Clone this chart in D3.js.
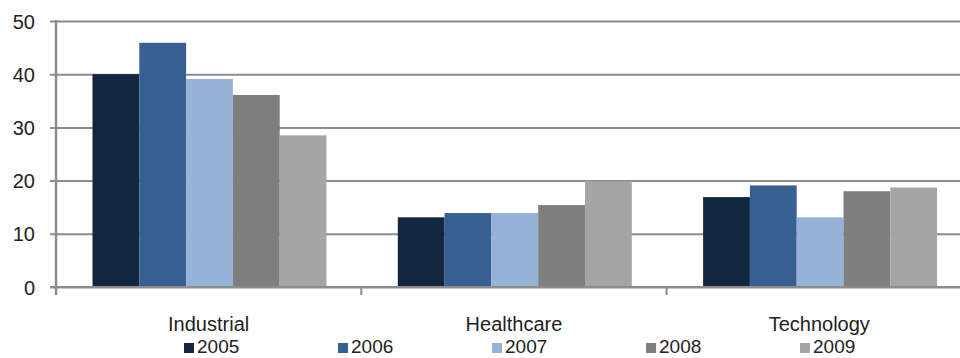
<!DOCTYPE html>
<html>
<head>
<meta charset="utf-8">
<script src="https://cdn.jsdelivr.net/npm/d3@7"></script>
<style>
  html, body { margin: 0; padding: 0; background: #fff; overflow: hidden; }
  svg { display: block; }
  text { font-family: "Liberation Sans", Arial, sans-serif; fill: #222; }
</style>
</head>
<body>
<div id="chart"></div>
<script>
// data
const categories = ["Industrial", "Healthcare", "Technology"];
const years = ["2005", "2006", "2007", "2008", "2009"];
const v2005 = [40, 13.1, 16.9];
const v2006 = [45.9, 13.9, 19.1];
const v2007 = [39.1, 13.9, 13.1];
const v2008 = [36.1, 15.4, 18.0];
const v2009 = [28.5, 19.9, 18.7];
const yTicks = [0, 10, 20, 30, 40, 50];
const colors = ["#12263f", "#366092", "#95b3d7", "#7f7f7f", "#a5a5a5"];

const series = [v2005, v2006, v2007, v2008, v2009];
const rows = categories.map((c, i) => ({
    key: c,
    values: years.map((yr, j) => ({ year: yr, value: series[j][i] }))
}));

const W = 960, H = 358;
const plotLeft = 56, plotTop = 21, plotBottom = 287;
const catWidth = 305.3;

const svg = d3.select("#chart")
    .append("svg")
    .attr("width", W)
    .attr("height", H);

// scales
const x0 = d3.scaleBand()
    .domain(categories)
    .range([plotLeft, plotLeft + catWidth * categories.length])
    .padding(0);

const x1 = d3.scaleBand()
    .domain(years)
    .range([36.5, 270.5])
    .padding(0);

const y = d3.scaleLinear()
    .domain([0, 50])
    .range([plotBottom, plotTop]);

const color = d3.scaleOrdinal().domain(years).range(colors);

const gridColor = "#8c8c8c";

// y axis + gridlines
const yAxis = svg.append("g")
    .attr("transform", `translate(${plotLeft},0)`)
    .call(d3.axisLeft(y).tickValues(yTicks).tickSizeOuter(0));

yAxis.select(".domain").remove();
yAxis.selectAll(".tick line")
    .attr("x1", -6)
    .attr("x2", W - plotLeft)
    .attr("stroke", gridColor)
    .attr("stroke-width", 2);
yAxis.selectAll(".tick text")
    .attr("x", -21)
    .attr("dy", "0.35em")
    .attr("font-size", "20px")
    .attr("font-family", "Liberation Sans, Arial, sans-serif")
    .style("fill", "#222");

// bars
const groups = svg.selectAll(".cat")
    .data(rows)
    .enter()
    .append("g")
    .attr("class", "cat")
    .attr("transform", d => `translate(${x0(d.key)},0)`);

groups.selectAll("rect")
    .data(d => d.values)
    .enter()
    .append("rect")
    .attr("x", d => x1(d.year))
    .attr("width", x1.bandwidth())
    .attr("y", d => y(d.value))
    .attr("height", d => y(0) - y(d.value))
    .attr("fill", d => color(d.year));

// baseline + vertical axis line
svg.append("line")
    .attr("x1", plotLeft - 6).attr("x2", W)
    .attr("y1", y(0)).attr("y2", y(0))
    .attr("stroke", gridColor)
    .attr("stroke-width", 2);

svg.append("line")
    .attr("x1", plotLeft).attr("x2", plotLeft)
    .attr("y1", plotTop - 1).attr("y2", y(0) + 8)
    .attr("stroke", gridColor)
    .attr("stroke-width", 2.5);

// category boundary ticks
svg.selectAll(".ctick")
    .data(categories.slice(1))
    .enter()
    .append("line")
    .attr("class", "ctick")
    .attr("x1", d => x0(d)).attr("x2", d => x0(d))
    .attr("y1", y(0)).attr("y2", y(0) + 8)
    .attr("stroke", gridColor)
    .attr("stroke-width", 2);

// category labels
svg.selectAll(".clabel")
    .data(categories)
    .enter()
    .append("text")
    .attr("class", "clabel")
    .attr("x", d => x0(d) + x0.bandwidth() / 2)
    .attr("y", 331)
    .attr("text-anchor", "middle")
    .attr("font-size", "20px")
    .text(d => d);

// legend
const legend = svg.append("g")
    .attr("transform", "translate(184, 0)");

years.forEach((yr, i) => {
    const item = legend.append("g")
        .attr("transform", `translate(${i * 154}, 0)`);

    item.append("rect")
        .attr("x", 0)
        .attr("y", 343)
        .attr("width", 10)
        .attr("height", 10)
        .attr("fill", color(yr));

    item.append("text")
        .attr("x", 13)
        .attr("y", 353)
        .attr("font-size", "19px")
        .text(yr);
});
</script>
</body>
</html>
